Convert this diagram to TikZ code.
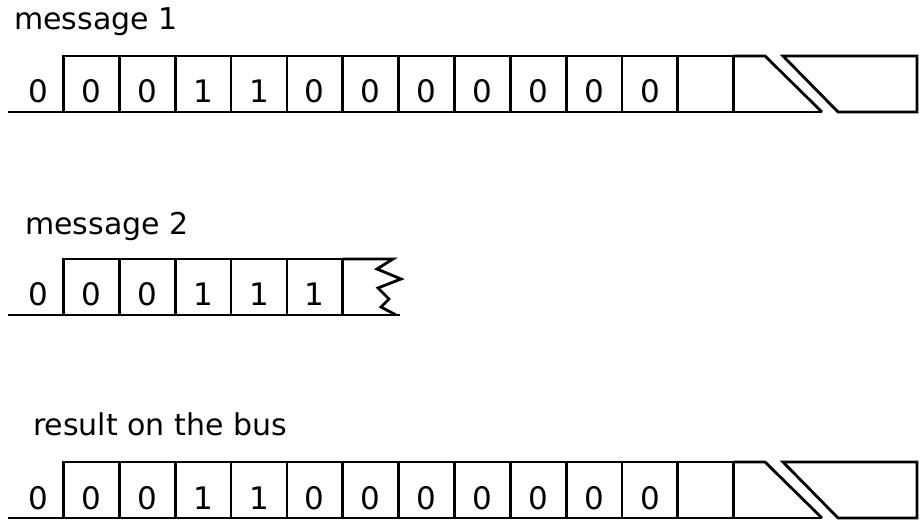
\documentclass[tikz,border=0pt]{standalone}
\usepackage{fontspec}
\setmainfont{DejaVu Sans}
\usetikzlibrary{positioning}

\begin{document}
\begin{tikzpicture}[
    x=1pt, y=-1pt,
    bit/.style={rectangle, draw, line width=2.8pt, minimum width=55.85pt, minimum height=56pt,
                inner sep=0pt, outer sep=0pt, text height=38pt, text depth=0pt,
                font=\fontsize{31}{32}\selectfont},
    title/.style={anchor=base west, inner sep=0pt, font=\fontsize{30}{31}\selectfont},
    bus/.style={line width=2.8pt, line join=miter}
]
    \useasboundingbox (0,0) rectangle (921,521);

    % message 1
    \node[title] (title1) at (14,30) {message 1};
    \node[bit, draw=none] (m1sof) at (38,84) {0};
    \foreach \b [count=\i] in {0,0,1,1,0,0,0,0,0,0,0,{}}
        \node[bit] (m1b\i) at ({63.5+55.85*(\i-0.5)},84) {\b};
    \coordinate (m1start) at (8,112);
    \coordinate (m1cut)   at (765,56);
    \coordinate (m1end)   at (822,112);
    \draw[bus] (m1start) -- (m1end);
    \draw[bus] (m1b12.north east) -- (m1cut) -- (m1end);
    \draw[bus] (783,56) -- (917,56) -- (917,112) -- (838,112) -- cycle;

    % message 2
    \node[title] (title2) at (25,235) {message 2};
    \node[bit, draw=none] (m2sof) at (38,287) {0};
    \foreach \b [count=\i] in {0,0,1,1,1}
        \node[bit] (m2b\i) at ({63.5+55.85*(\i-0.5)},287) {\b};
    \coordinate (m2start) at (8,315);
    \coordinate (m2top)   at (393,259);
    \coordinate (m2end)   at (400,315);
    \draw[bus] (m2start) -- (m2end);
    \draw[bus] (m2b5.north east) -- (m2top)
        -- (377,269) -- (401,279) -- (378,288) -- (389,299) -- (381,307) -- (396,315);

    % result on the bus
    \node[title] (title3) at (33,435) {result on the bus};
    \node[bit, draw=none] (busof) at (38,490) {0};
    \foreach \b [count=\i] in {0,0,1,1,0,0,0,0,0,0,0,{}}
        \node[bit] (bus\i) at ({63.5+55.85*(\i-0.5)},490) {\b};
    \coordinate (busstart) at (8,518);
    \coordinate (buscut)   at (765,462);
    \coordinate (busend)   at (822,518);
    \draw[bus] (busstart) -- (busend);
    \draw[bus] (bus12.north east) -- (buscut) -- (busend);
    \draw[bus] (783,462) -- (917,462) -- (917,518) -- (838,518) -- cycle;
\end{tikzpicture}
\end{document}
